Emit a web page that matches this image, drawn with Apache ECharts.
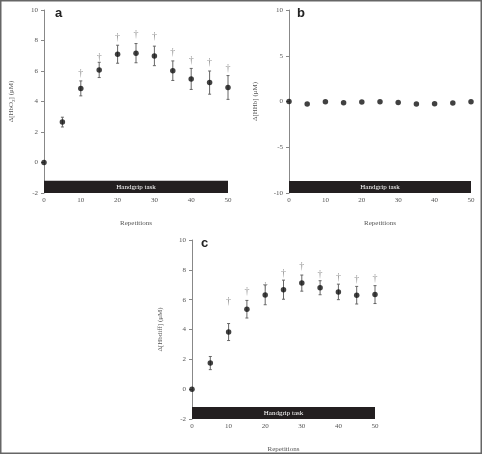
<!DOCTYPE html>
<html>
<head>
<meta charset="utf-8">
<script src="https://cdn.jsdelivr.net/npm/echarts@6/dist/echarts.min.js"></script>
<style>
  html, body { margin: 0; padding: 0; background: #fff; }
  #chart { width: 482px; height: 454px; }
</style>
</head>
<body>
<div id="chart"></div>
<script>
  // repetitions (x)
  const reps = [0, 5, 10, 15, 20, 25, 30, 35, 40, 45, 50];
  const xTicks = [0, 10, 20, 30, 40, 50];

  // panel a : HbO2
  const aMean = [0, 2.65, 4.86, 6.07, 7.1, 7.17, 6.99, 6.02, 5.48, 5.24, 4.92];
  const aErr = [0, 0.32, 0.49, 0.5, 0.59, 0.63, 0.64, 0.64, 0.69, 0.76, 0.78];
  const aDagger = [null, null, 5.87, 6.89, 8.2, 8.4, 8.24, 7.24, 6.71, 6.56, 6.16];

  // panel b
  const bMean = [0, -0.27, -0.02, -0.15, -0.05, -0.02, -0.12, -0.27, -0.24, -0.16, -0.02];

  // panel c
  const cMean = [0, 1.75, 3.83, 5.36, 6.32, 6.67, 7.11, 6.8, 6.52, 6.3, 6.34];
  const cErr = [0, 0.44, 0.57, 0.59, 0.66, 0.64, 0.54, 0.47, 0.52, 0.59, 0.6];
  const cDagger = [null, null, 5.86, 6.56, 6.91, 7.78, 8.22, 7.72, 7.5, 7.34, 7.43];

  const serif = '"Liberation Serif", "DejaVu Serif", serif';
  const grey = '#555';

  let myChart = echarts.init(document.getElementById('chart'));

  function xAxisFor(i) {
    return {
      gridIndex: i, type: 'value', min: 0, max: 50, interval: 10,
      name: 'Repetitions', nameLocation: 'middle', nameGap: 27,
      nameTextStyle: { fontFamily: serif, fontSize: 7, color: grey },
      axisLine: { show: false }, axisTick: { show: false }, splitLine: { show: false },
      axisLabel: { fontFamily: serif, fontSize: 7, color: grey, margin: 4 }
    };
  }
  function yAxisFor(i, min, max, step, name, gap) {
    return {
      gridIndex: i, type: 'value', min: min, max: max, interval: step,
      name: name, nameLocation: 'middle', nameGap: gap,
      nameTextStyle: { fontFamily: serif, fontSize: 7, color: grey,
        rich: { sub: { fontFamily: serif, fontSize: 5, color: grey, verticalAlign: 'bottom', padding: [4, 0, 0, 0] } } },
      axisLine: { show: true, lineStyle: { color: '#888', width: 1 } },
      axisTick: { show: true, length: 3, lineStyle: { color: '#888' } },
      splitLine: { show: false },
      axisLabel: { fontFamily: serif, fontSize: 7, color: grey, margin: 6 }
    };
  }

  function errBars(mean, err, idx) {
    return {
      type: 'custom', xAxisIndex: idx, yAxisIndex: idx, silent: true, z: 3,
      data: reps.map((r, i) => [r, mean[i] - err[i], mean[i] + err[i]]).filter(d => d[2] - d[1] > 0),
      renderItem: function (params, api) {
        let lo = api.coord([api.value(0), api.value(1)]);
        let hi = api.coord([api.value(0), api.value(2)]);
        let st = { stroke: '#666', lineWidth: 1 };
        return {
          type: 'group', children: [
            { type: 'line', shape: { x1: lo[0], y1: lo[1], x2: hi[0], y2: hi[1] }, style: st },
            { type: 'line', shape: { x1: lo[0] - 1.5, y1: lo[1], x2: lo[0] + 1.5, y2: lo[1] }, style: st },
            { type: 'line', shape: { x1: hi[0] - 1.5, y1: hi[1], x2: hi[0] + 1.5, y2: hi[1] }, style: st }
          ]
        };
      }
    };
  }
  function points(mean, idx) {
    return {
      type: 'scatter', xAxisIndex: idx, yAxisIndex: idx, symbol: 'circle', symbolSize: 5.5,
      itemStyle: { color: '#111' }, z: 5, clip: false,
      data: reps.map((r, i) => [r, mean[i]])
    };
  }
  function daggers(dy, idx) {
    return {
      type: 'scatter', xAxisIndex: idx, yAxisIndex: idx, symbolSize: 0, z: 5,
      label: { show: true, position: 'inside', formatter: '\u2020', fontFamily: serif, fontSize: 10, color: '#777' },
      data: reps.map((r, i) => [r, dy[i]]).filter(d => d[1] !== null)
    };
  }
  function taskBar(idx, y0, y1) {
    return {
      type: 'line', xAxisIndex: idx, yAxisIndex: idx, data: [], silent: true,
      markArea: {
        silent: true,
        itemStyle: { color: '#231f20' },
        label: { show: true, position: 'inside', color: '#fff', fontFamily: serif, fontSize: 7 },
        data: [[{ name: 'Handgrip task', coord: [0, y0] }, { coord: [50, y1] }]]
      }
    };
  }

  let option = {
    animation: false,
    grid: [
      { left: 44, top: 10, width: 184, height: 183 },
      { left: 289, top: 10, width: 182, height: 183 },
      { left: 192, top: 240, width: 183, height: 183 }
    ],
    xAxis: [xAxisFor(0), xAxisFor(1), xAxisFor(2)],
    yAxis: [
      yAxisFor(0, -2, 10, 2, 'Δ[HbO{sub|2}] (μM)', 28),
      yAxisFor(1, -10, 10, 5, 'Δ[HHb] (μM)', 30),
      yAxisFor(2, -2, 10, 2, 'Δ[Hbdiff] (μM)', 28)
    ],
    graphic: [
      { type: 'rect', shape: { x: 0.75, y: 0.75, width: 480.5, height: 452.5 }, style: { fill: 'none', stroke: '#666', lineWidth: 1.5 }, z: 100 },
      { type: 'text', left: 55, top: 7, style: { text: 'a', font: 'bold 13px "Liberation Sans", Arial, sans-serif', fill: '#222' } },
      { type: 'text', left: 297, top: 7, style: { text: 'b', font: 'bold 13px "Liberation Sans", Arial, sans-serif', fill: '#222' } },
      { type: 'text', left: 201, top: 237, style: { text: 'c', font: 'bold 13px "Liberation Sans", Arial, sans-serif', fill: '#222' } }
    ],
    series: [
      taskBar(0, -2, -1.2), errBars(aMean, aErr, 0), points(aMean, 0), daggers(aDagger, 0),
      taskBar(1, -10, -8.7), points(bMean, 1),
      taskBar(2, -2, -1.2), errBars(cMean, cErr, 2), points(cMean, 2), daggers(cDagger, 2)
    ]
  };
  myChart.setOption(option);
</script>
</body>
</html>
